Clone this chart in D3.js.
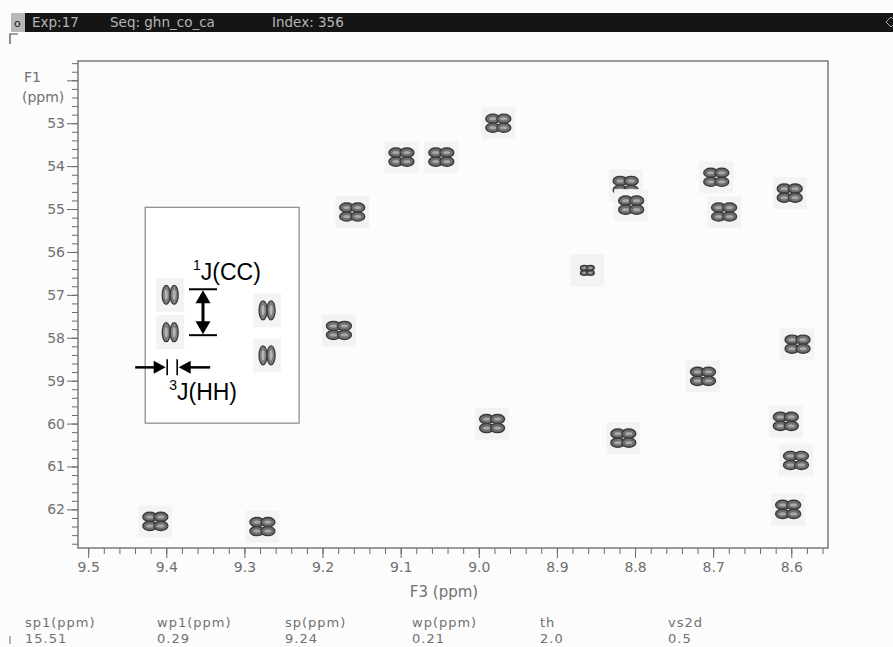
<!DOCTYPE html>
<html>
<head>
<meta charset="utf-8">
<script src="https://cdn.jsdelivr.net/npm/d3@7/dist/d3.min.js"></script>
<style>
  body { margin: 0; background: #fcfcfc; }
  svg { display: block; }
  .ax text { font-family: "DejaVu Sans", sans-serif; font-size: 14px; fill: #707070; }
  .ax path { display: none; }
  .ax line { stroke: #6a6a6a; }
  .lbl { font-family: "DejaVu Sans", sans-serif; fill: #707070; }
</style>
</head>
<body>
<script>
var width = 893,
    height = 647;

// F3 (1H, ppm) and F1 (13C, ppm) of each cross peak
var peakF3 = [8.975, 9.099, 9.048, 9.162, 8.812, 8.805, 8.696, 8.686, 8.602, 8.861,
              9.179, 8.592, 8.713, 8.983, 8.815, 8.607, 8.594, 8.604, 9.414, 9.277];
var peakF1 = [53.0, 53.79, 53.79, 55.07, 54.45, 54.91, 54.26, 55.07, 54.63, 56.43,
              57.83, 58.15, 58.9, 60.0, 60.34, 59.95, 60.86, 62.0, 62.28, 62.4];
var peakWeak = [0, 0, 0, 0, 0, 0, 0, 0, 0, 1, 0, 0, 0, 0, 0, 0, 0, 0, 0, 0];

// expanded multiplets shown in the inset
var insetF3 = [9.395, 9.395, 9.271, 9.271];
var insetF1 = [57.0, 57.87, 57.36, 58.41];

var xMajor = [9.5, 9.4, 9.3, 9.2, 9.1, 9.0, 8.9, 8.8, 8.7, 8.6];
var yMajor = [53, 54, 55, 56, 57, 58, 59, 60, 61, 62];

var paramNames = ["sp1(ppm)", "wp1(ppm)", "sp(ppm)", "wp(ppm)", "th", "vs2d"];
var paramValues = ["15.51", "0.29", "9.24", "0.21", "2.0", "0.5"];

var svg = d3.select("body").append("svg")
    .attr("width", width)
    .attr("height", height);

// header bar
svg.append("rect").attr("x", 25).attr("y", 13).attr("width", width - 25).attr("height", 19).attr("fill", "#151515");
svg.append("rect").attr("x", 11).attr("y", 13).attr("width", 14).attr("height", 19).attr("fill", "#b8b8b8");
svg.append("text").attr("x", 14).attr("y", 27).attr("font-family", "DejaVu Sans").attr("font-size", 11).attr("fill", "#222").text("o");
var header = [["Exp:17", 32], ["Seq: ghn_co_ca", 110], ["Index: 356", 272]];
svg.selectAll(".hdr").data(header).enter().append("text")
    .attr("class", "hdr")
    .attr("x", function(d){ return d[1] })
    .attr("y", 27)
    .attr("font-family", "DejaVu Sans")
    .attr("font-size", 13.5)
    .attr("fill", "#b5b5b5")
    .text(function(d){ return d[0] });
svg.append("path").attr("d", "M 886,22 l 5,-5 l 5,5 l -5,5 z").attr("fill", "none").attr("stroke", "#aaa");
svg.append("path").attr("d", "M 10,44 V 34 H 18").attr("fill", "none").attr("stroke", "#444").attr("stroke-width", 1.2);

var plotLeft = 78, plotTop = 61, plotRight = 828, plotBottom = 548;

var x = d3.scaleLinear().domain([9.513, 8.553]).range([plotLeft, plotRight]);
var y = d3.scaleLinear().domain([51.55, 62.9]).range([plotTop, plotBottom]);

// y axis: minor then major
var yMinor = d3.range(51.6, 62.9, 0.2);
svg.append("g").attr("class", "ax")
    .attr("transform", "translate(" + plotLeft + ",0)")
    .call(d3.axisLeft(y).tickValues(yMinor).tickSize(6).tickFormat(""));
svg.append("g").attr("class", "ax")
    .attr("transform", "translate(" + plotLeft + ",0)")
    .call(d3.axisLeft(y).tickValues([52].concat(yMajor)).tickSize(11).tickPadding(2)
      .tickFormat(function(d){ return d == 52 ? "" : d }));

svg.append("text").attr("class", "lbl").attr("x", 24).attr("y", 82).attr("font-size", 14).text("F1");
svg.append("text").attr("class", "lbl").attr("x", 22).attr("y", 102).attr("font-size", 14).text("(ppm)");

// x axis
var xMinorTicks = d3.range(8.56, 9.511, 0.02);
svg.append("g").attr("class", "ax")
    .attr("transform", "translate(0," + plotBottom + ")")
    .call(d3.axisBottom(x).tickValues(xMinorTicks).tickSize(6).tickFormat(""));
svg.append("g").attr("class", "ax")
    .attr("transform", "translate(0," + plotBottom + ")")
    .call(d3.axisBottom(x).tickValues(xMajor).tickSize(10).tickPadding(4).tickFormat(d3.format(".1f")));

svg.append("text").attr("class", "lbl").attr("x", 444).attr("y", 597).attr("text-anchor", "middle")
    .attr("font-size", 15).text("F3 (ppm)");

// frame
svg.append("rect").attr("x", plotLeft).attr("y", plotTop).attr("width", plotRight - plotLeft).attr("height", plotBottom - plotTop)
    .attr("fill", "none").attr("stroke", "#7a7a7a").attr("stroke-width", 1.5);

// cross peaks: 2x2 multiplet blobs on a pale square
var peaks = peakF3.map(function(d, i){ return {f3: d, f1: peakF1[i], weak: peakWeak[i]} });

var pg = svg.selectAll(".peak").data(peaks).enter().append("g")
    .attr("class", "peak")
    .attr("transform", function(d){ return "translate(" + x(d.f3) + "," + y(d.f1) + ")" });

pg.append("rect")
    .attr("x", -17).attr("y", -16).attr("width", 34).attr("height", 32)
    .attr("fill", "#f3f3f3");

var lobes = [[-5.5, -4.5], [5.5, -4.5], [-5.5, 4.5], [5.5, 4.5]];
pg.each(function(d){
  var g = d3.select(this);
  var s = d.weak ? 0.55 : 1;
  lobes.forEach(function(o){
    g.append("ellipse")
      .attr("cx", o[0] * s).attr("cy", o[1] * s)
      .attr("rx", 7 * s).attr("ry", 4.6 * s)
      .attr("fill", "#6e6e6e").attr("stroke", "#3a3a3a").attr("stroke-width", 1.4);
  });
  lobes.forEach(function(o){
    g.append("ellipse")
      .attr("cx", o[0] * s).attr("cy", o[1] * s)
      .attr("rx", 3.6 * s).attr("ry", 1.6 * s)
      .attr("fill", "#a8a8a8");
  });
});

// inset box
svg.append("rect")
    .attr("x", x(9.427)).attr("y", y(54.96))
    .attr("width", x(9.230) - x(9.427)).attr("height", y(59.99) - y(54.96))
    .attr("fill", "#fff").attr("stroke", "#888").attr("stroke-width", 1.2);

var ig = svg.selectAll(".ipeak").data(insetF3.map(function(d, i){ return {f3: d, f1: insetF1[i]} }))
  .enter().append("g")
    .attr("class", "ipeak")
    .attr("transform", function(d){ return "translate(" + x(d.f3) + "," + y(d.f1) + ")" });
ig.append("rect").attr("x", -14).attr("y", -17).attr("width", 28).attr("height", 34).attr("fill", "#f3f3f3");
ig.each(function(){
  var g = d3.select(this);
  [-4, 4].forEach(function(dx){
    g.append("ellipse").attr("cx", dx).attr("cy", 0).attr("rx", 4).attr("ry", 9.5)
      .attr("fill", "#7e7e7e").attr("stroke", "#3a3a3a").attr("stroke-width", 1.3);
    g.append("ellipse").attr("cx", dx).attr("cy", 0).attr("rx", 1.5).attr("ry", 5)
      .attr("fill", "#b5b5b5");
  });
});

// coupling annotations
var ax = x(9.353), aTop = y(56.87), aBot = y(57.94);
svg.append("line").attr("x1", ax - 14).attr("x2", ax + 14).attr("y1", aTop).attr("y2", aTop).attr("stroke", "#000").attr("stroke-width", 2);
svg.append("line").attr("x1", ax - 14).attr("x2", ax + 14).attr("y1", aBot).attr("y2", aBot).attr("stroke", "#000").attr("stroke-width", 2);
svg.append("line").attr("x1", ax).attr("x2", ax).attr("y1", aTop + 10).attr("y2", aBot - 10)
    .attr("stroke", "#000").attr("stroke-width", 3);
svg.append("path").attr("fill", "#000")
    .attr("d", "M" + ax + "," + (aTop + 1) + " l 7.5,13 h -15 z");
svg.append("path").attr("fill", "#000")
    .attr("d", "M" + ax + "," + (aBot - 1) + " l 7.5,-13 h -15 z");

var hy = y(58.69), b1 = x(9.395) - 3, b2 = x(9.395) + 7;
svg.append("line").attr("x1", b1).attr("x2", b1).attr("y1", hy - 8).attr("y2", hy + 8).attr("stroke", "#000").attr("stroke-width", 1.6);
svg.append("line").attr("x1", b2).attr("x2", b2).attr("y1", hy - 8).attr("y2", hy + 8).attr("stroke", "#000").attr("stroke-width", 1.6);
svg.append("line").attr("x1", b1 - 32).attr("x2", b1 - 10).attr("y1", hy).attr("y2", hy)
    .attr("stroke", "#000").attr("stroke-width", 2.5);
svg.append("path").attr("fill", "#000")
    .attr("d", "M" + (b1 - 1.5) + "," + hy + " l -12,-6.5 v 13 z");
svg.append("line").attr("x1", b2 + 33).attr("x2", b2 + 10).attr("y1", hy).attr("y2", hy)
    .attr("stroke", "#000").attr("stroke-width", 2.5);
svg.append("path").attr("fill", "#000")
    .attr("d", "M" + (b2 + 1.5) + "," + hy + " l 12,-6.5 v 13 z");

var jcc = svg.append("text").attr("x", ax - 10).attr("y", aTop - 9)
    .attr("font-family", "Liberation Sans, Arial, sans-serif").attr("font-size", 23).attr("fill", "#000");
jcc.append("tspan").attr("font-size", 14).attr("dy", -10).text("1");
jcc.append("tspan").attr("dy", 10).text("J(CC)");

var jhh = svg.append("text").attr("x", b1 + 2).attr("y", hy + 33)
    .attr("font-family", "Liberation Sans, Arial, sans-serif").attr("font-size", 23).attr("fill", "#000");
jhh.append("tspan").attr("font-size", 14).attr("dy", -10).text("3");
jhh.append("tspan").attr("dy", 10).text("J(HH)");

// processing parameters
var px = [25, 157, 285, 412, 540, 668];
svg.selectAll(".pname").data(paramNames).enter().append("text")
    .attr("class", "lbl")
    .attr("x", function(d, i){ return px[i] }).attr("y", 627)
    .attr("font-size", 13).attr("letter-spacing", 1)
    .text(function(d){ return d });
svg.selectAll(".pval").data(paramValues).enter().append("text")
    .attr("class", "lbl")
    .attr("x", function(d, i){ return px[i] }).attr("y", 643)
    .attr("font-size", 13).attr("letter-spacing", 1)
    .text(function(d){ return d });
svg.append("line").attr("x1", 10).attr("x2", 10).attr("y1", 636).attr("y2", 644).attr("stroke", "#666");
</script>
</body>
</html>
